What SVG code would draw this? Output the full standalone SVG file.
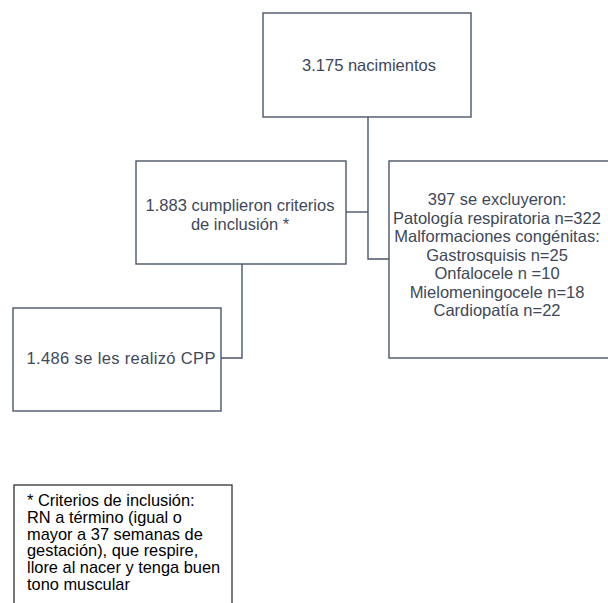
<svg xmlns="http://www.w3.org/2000/svg" width="608" height="603" viewBox="0 0 608 603">
<style>
.box{fill:#fff;stroke:#4a5568;stroke-width:1.4}
.t{font-family:"Liberation Sans",Arial,sans-serif;font-size:16.5px;fill:#3e4859;text-anchor:middle}
.fn{font-family:"Liberation Sans",Arial,sans-serif;font-size:16.4px;fill:#000}
.fbox{fill:#fff;stroke:#222;stroke-width:1.2}
.c{fill:none;stroke:#4a5568;stroke-width:1.4}
</style>
<rect width="608" height="603" fill="#fff"/>
<g id="connectors">
<polyline class="c" points="368,117 368,259 389,259"/>
<line class="c" x1="346" y1="212" x2="368" y2="212"/>
<polyline class="c" points="242,264 242,358 221,358"/>
</g>
<g id="n1">
<rect class="box" x="263" y="13" width="208" height="104"/>
<text class="t" x="369" y="71">3.175 nacimientos</text>
</g>
<g id="n2">
<rect class="box" x="136" y="161" width="210" height="103"/>
<text class="t" x="240" y="211">1.883 cumplieron criterios</text>
<text class="t" x="240" y="230">de inclusión *</text>
</g>
<g id="n3">
<rect class="box" x="389" y="161" width="230" height="197"/>
<text class="t" x="497" y="205">397 se excluyeron:</text>
<text class="t" x="497" y="223.5">Patología respiratoria n=322</text>
<text class="t" x="497" y="242">Malformaciones congénitas:</text>
<text class="t" x="497" y="260.5">Gastrosquisis n=25</text>
<text class="t" x="497" y="279">Onfalocele n =10</text>
<text class="t" x="497" y="297.5">Mielomeningocele n=18</text>
<text class="t" x="497" y="316">Cardiopatía n=22</text>
</g>
<g id="n4">
<rect class="box" x="13" y="308" width="208" height="103"/>
<text class="t" x="121" y="364" textLength="189">1.486 se les realizó CPP</text>
</g>
<g id="footnote">
<rect class="fbox" x="14" y="485" width="218" height="130"/>
<text class="fn" x="27" y="506">* Criterios de inclusión:</text>
<text class="fn" x="27" y="523">RN a término (igual o</text>
<text class="fn" x="27" y="539.5">mayor a 37 semanas de</text>
<text class="fn" x="27" y="556">gestación), que respire,</text>
<text class="fn" x="27" y="573">llore al nacer y tenga buen</text>
<text class="fn" x="27" y="589.5">tono muscular</text>
</g>
</svg>
